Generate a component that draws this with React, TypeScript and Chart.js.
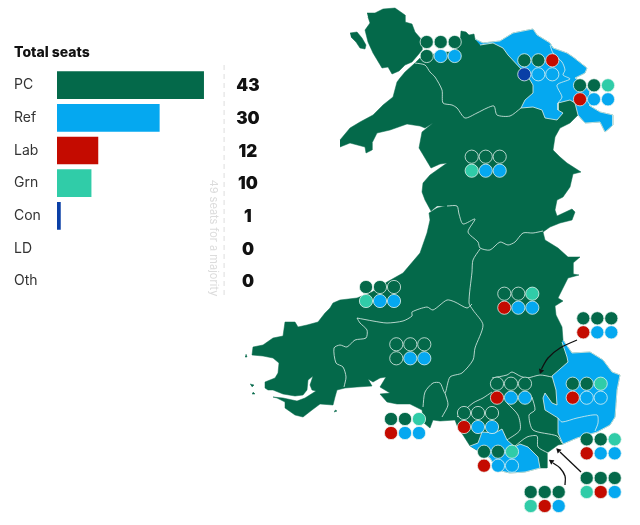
import { useEffect, useRef } from 'react'
import { Chart, registerables } from 'chart.js'

Chart.register(...registerables)

const PARTY_COLORS: Record<string, string> = {
  PC: '#04694A',
  Ref: '#05A8F0',
  Lab: '#C40B00',
  Grn: '#30CCA8',
  Con: '#0A3FA6',
}

// total seats
const parties = ['PC', 'Ref', 'Lab', 'Grn', 'Con', 'LD', 'Oth']
const seats = [43, 30, 12, 10, 1, 0, 0]
const barColors = ['#04694A', '#05A8F0', '#C40B00', '#30CCA8', '#0A3FA6', 'transparent', 'transparent']
const majority = 49

// map outlines, in map units
type Pt = [number, number]

const mainland: Pt[] = [
  [340, 140], [350, 128], [360, 122], [373, 115], [383, 105], [393, 97], [397, 82], [400, 78], [405, 72], [415, 63],
  [420, 58], [428, 56], [440, 52], [452, 52], [460, 43], [461, 31], [466, 32], [469, 35], [474, 34], [475, 39],
  [483, 43], [500, 41], [513, 33], [533, 29], [537, 35], [550, 43], [553, 48], [567, 53], [573, 57], [587, 68],
  [585, 73], [575, 78], [582, 82], [590, 92], [590, 106], [600, 112], [613, 115], [613, 125], [605, 132], [600, 122],
  [585, 123], [578, 115], [570, 123], [560, 128], [555, 137], [553, 150], [560, 157], [567, 163], [581, 172], [573, 174],
  [570, 187], [563, 197], [557, 200], [555, 210], [557, 216], [572, 209], [575, 212], [572, 220], [560, 223], [550, 227],
  [543, 232], [545, 240], [558, 248], [568, 257], [580, 257], [573, 263], [573, 274], [579, 275], [568, 278], [563, 288],
  [558, 298], [563, 301], [555, 306], [556, 315], [562, 327], [563, 340], [572, 353], [590, 352], [603, 360], [612, 372],
  [620, 375], [617, 390], [615, 417], [610, 425], [597, 432], [577, 438], [563, 444], [558, 445], [547, 453], [547, 468],
  [540, 468], [525, 472], [510, 473], [497, 470], [490, 458], [480, 452], [470, 446], [463, 435], [458, 428], [455, 420],
  [440, 421], [433, 420], [430, 428], [424, 423], [422, 410], [410, 404], [397, 404], [387, 402], [380, 394], [390, 393],
  [380, 387], [386, 377], [380, 378], [373, 382], [368, 379], [372, 386], [357, 387], [345, 388], [337, 390], [335, 397],
  [333, 405], [320, 404], [312, 410], [303, 417], [295, 415], [285, 408], [285, 402], [277, 398], [273, 397], [283, 398],
  [297, 401], [305, 398], [316, 391], [312, 390], [310, 385], [313, 376], [308, 380], [307, 390], [303, 395], [295, 396],
  [283, 394], [273, 390], [268, 390], [265, 388], [265, 382], [275, 378], [278, 373], [279, 363], [273, 358], [263, 356],
  [252, 355], [253, 347], [263, 345], [273, 338], [283, 336], [285, 322], [295, 322], [298, 327], [307, 325], [318, 322],
  [325, 313], [330, 308], [333, 303], [340, 300], [357, 298], [372, 292], [387, 282], [403, 273], [420, 253], [427, 233],
  [430, 220], [429, 213], [437, 208], [445, 206], [437, 206], [431, 211], [425, 200], [422, 192], [423, 183], [430, 175],
  [447, 163], [440, 164], [431, 168], [419, 148], [422, 132], [433, 123], [425, 128], [420, 126], [407, 124], [390, 130],
  [377, 133], [372, 143], [372, 150], [366, 153], [365, 147], [350, 143], [340, 147],
]
const anglesey: Pt[] = [
  [367, 13], [375, 13], [383, 9], [395, 8], [405, 15], [405, 22], [412, 24], [415, 32], [422, 40], [422, 50],
  [418, 55], [412, 62], [405, 65], [399, 71], [392, 74], [388, 67], [382, 68], [373, 53], [368, 42], [365, 30],
  [370, 23], [368, 17],
]
const holyIsland: Pt[] = [
  [350, 33], [357, 32], [362, 38], [366, 45], [365, 49], [360, 48], [356, 42], [351, 37],
]
const islets: Pt[][] = [
  [[246, 354], [247, 357], [245, 357]],
  [[250, 384], [254, 385], [252, 387]],
  [[253, 392], [255, 394], [252, 394]],
  [[335, 410], [337, 411], [334, 412]],
]
const blueNorth: Pt[] = [
  [475, 39], [483, 43], [500, 41], [513, 33], [533, 29], [537, 35], [550, 43], [553, 48], [567, 53], [573, 57],
  [587, 68], [585, 73], [575, 78], [582, 82], [590, 92], [590, 106], [600, 112], [613, 115], [613, 125], [605, 132],
  [600, 122], [585, 123], [578, 115], [575, 103], [570, 100], [558, 103], [558, 110], [563, 113], [557, 120], [545, 118],
  [542, 110], [533, 107], [521, 108], [525, 100], [533, 93], [533, 85], [530, 80], [522, 70], [508, 55], [503, 48],
  [493, 43], [480, 45],
]
const blueEast: Pt[] = [
  [563, 340], [572, 353], [590, 352], [603, 360], [612, 372], [620, 375], [617, 390], [615, 417], [610, 425], [597, 432],
  [577, 438], [563, 444], [558, 433], [558, 418], [545, 410], [543, 398], [545, 393], [552, 403], [557, 405], [556, 390],
  [552, 376], [568, 362], [567, 357], [562, 342],
]
const blueSouth: Pt[] = [
  [470, 446], [478, 443], [482, 432], [495, 433], [502, 429], [507, 440], [515, 447], [520, 444], [528, 447], [538, 457],
  [540, 468], [525, 472], [510, 473], [497, 470], [490, 458], [480, 452],
]
const borders: Pt[][] = [
  [[415, 63], [425, 65], [430, 72], [435, 77], [442, 90], [443, 103], [452, 105], [457, 108], [465, 118], [477, 113], [487, 108], [494, 106], [497, 115], [510, 116], [521, 108]],
  [[447, 206], [457, 206], [459, 214], [463, 224], [475, 219], [468, 232], [478, 242], [480, 248], [490, 250], [500, 242], [508, 245], [515, 242], [523, 233], [533, 233], [543, 231]],
  [[480, 249], [473, 260], [472, 272], [469, 303], [473, 310], [483, 325], [475, 348], [473, 360], [462, 373], [450, 377], [445, 393], [440, 383], [433, 383], [425, 392], [423, 407]],
  [[445, 393], [448, 405], [442, 417]],
  [[357, 318], [373, 321], [387, 323], [403, 321], [412, 316], [412, 312], [427, 307], [433, 310], [447, 300], [455, 302], [467, 308], [472, 304]],
  [[357, 318], [360, 323], [367, 330], [366, 338], [355, 340], [347, 347], [340, 345], [334, 348], [336, 363], [343, 367], [346, 377], [344, 387]],
  [[457, 417], [473, 403], [483, 398], [492, 392]],
  [[492, 378], [507, 375], [512, 372], [520, 376], [527, 378], [540, 375], [552, 377]],
  [[507, 403], [518, 415], [520, 430], [507, 440]],
  [[532, 397], [535, 410], [529, 415], [533, 430], [557, 436], [562, 443]],
  [[515, 446], [527, 437], [537, 436], [538, 447], [548, 453]],
  [[558, 418], [562, 422], [577, 418], [597, 415], [598, 423], [595, 431]],
  [[550, 45], [553, 53], [562, 62], [565, 70], [563, 75], [570, 79], [557, 85], [562, 97], [558, 103]],
]

// seats per region: top left dot, then the six parties row by row
const groupX = [426.7, 524.3, 580, 471.7, 366, 396.3, 391, 504.3, 583.3, 572.7, 497, 464, 484, 586.7, 586.7, 530.7]
const groupY = [42, 60.3, 85.3, 156.7, 287, 344.3, 419, 293.7, 318.3, 383.7, 383.7, 413, 451.7, 439.3, 478, 492]
const groupSeats = [
  ['PC', 'PC', 'PC', 'PC', 'Ref', 'Ref'],
  ['PC', 'PC', 'Lab', 'Con', 'Ref', 'Ref'],
  ['PC', 'PC', 'Grn', 'Lab', 'Ref', 'Ref'],
  ['PC', 'PC', 'PC', 'Grn', 'Ref', 'Ref'],
  ['PC', 'PC', 'PC', 'Grn', 'Ref', 'Ref'],
  ['PC', 'PC', 'PC', 'PC', 'Ref', 'Ref'],
  ['PC', 'PC', 'Grn', 'Lab', 'Ref', 'Ref'],
  ['PC', 'PC', 'Grn', 'Lab', 'Ref', 'Ref'],
  ['PC', 'PC', 'PC', 'Lab', 'Ref', 'Ref'],
  ['PC', 'PC', 'Grn', 'Lab', 'Ref', 'Ref'],
  ['PC', 'PC', 'PC', 'Lab', 'Ref', 'Ref'],
  ['PC', 'PC', 'PC', 'Lab', 'Ref', 'Ref'],
  ['PC', 'PC', 'Grn', 'Lab', 'Ref', 'Ref'],
  ['PC', 'PC', 'Grn', 'Lab', 'Ref', 'Ref'],
  ['PC', 'PC', 'PC', 'Grn', 'Lab', 'Ref'],
  ['PC', 'PC', 'PC', 'Grn', 'Lab', 'Ref'],
]

// leader lines from the dots outside the map
const leaders: Pt[][] = [
  [[577, 340], [560, 348], [548, 358], [541.5, 369]],
  [[581, 472], [560, 452]],
  [[565, 485], [565, 476], [560, 468], [553, 463]],
]
const leaderTips: Pt[] = [[541, 371], [558.5, 450.5], [551.5, 461.5]]
const leaderAngles = [200, 315, 305]

const toPoints = (pts: Pt[]) => pts.map(([x, y]) => ({ x, y }))

const shape = (pts: Pt[], color: string, order: number, edge = false) => ({
  type: 'scatter' as const,
  data: toPoints(pts),
  showLine: true,
  fill: 'shape',
  backgroundColor: color,
  borderColor: edge ? 'rgba(225,240,235,0.8)' : color,
  borderWidth: edge ? 1 : 0.5,
  pointRadius: 0,
  order,
})

const line = (pts: Pt[], color: string, width: number, order: number, tension = 0) => ({
  type: 'scatter' as const,
  data: toPoints(pts),
  showLine: true,
  borderColor: color,
  borderWidth: width,
  tension,
  pointRadius: 0,
  order,
})

const seatDots = (party: string) => {
  const pts: { x: number; y: number }[] = []
  groupSeats.forEach((group, g) => {
    group.forEach((p, i) => {
      if (p === party) pts.push({ x: groupX[g] + (i % 3) * 14, y: groupY[g] + Math.floor(i / 3) * 14 })
    })
  })
  return {
    type: 'scatter' as const,
    data: pts,
    pointRadius: 6.6,
    pointBackgroundColor: PARTY_COLORS[party],
    pointBorderColor: 'rgba(235,245,242,0.75)',
    pointBorderWidth: 1,
    order: 2,
  }
}

const barLabels = {
  id: 'barLabels',
  afterDatasetsDraw(chart: Chart) {
    const { ctx, scales } = chart
    const lineX = scales.x.getPixelForValue(majority)
    ctx.save()
    ctx.strokeStyle = '#dddddd'
    ctx.setLineDash([5, 4])
    ctx.lineWidth = 1
    ctx.beginPath()
    ctx.moveTo(lineX, 65)
    ctx.lineTo(lineX, 298)
    ctx.stroke()
    ctx.setLineDash([])

    ctx.fillStyle = '#dcdcdc'
    ctx.font = '11px Inter'
    ctx.textAlign = 'center'
    ctx.textBaseline = 'middle'
    ctx.translate(lineX - 11, 238)
    ctx.rotate(Math.PI / 2)
    ctx.fillText(`${majority} seats for a majority`, 0, 0)
    ctx.restore()

    ctx.save()
    ctx.fillStyle = '#111111'
    ctx.font = '900 17px Inter'
    ctx.textAlign = 'center'
    ctx.textBaseline = 'middle'
    seats.forEach((v, i) => {
      ctx.fillText(String(v), scales.x.getPixelForValue(56), scales.y.getPixelForValue(i) + 1)
    })
    ctx.restore()
  },
}

const App = () => {
  const mapRef = useRef<HTMLCanvasElement>(null)
  const barRef = useRef<HTMLCanvasElement>(null)

  useEffect(() => {
    if (!mapRef.current || !barRef.current) return

    const mapChart = new Chart(mapRef.current, {
      type: 'scatter',
      data: {
        datasets: [
          ...leaders.map(l => line(l, '#111111', 1.3, 0, 0.4)),
          {
            type: 'scatter' as const,
            data: toPoints(leaderTips),
            pointStyle: 'triangle',
            pointRadius: 3.2,
            pointRotation: leaderAngles,
            pointBackgroundColor: '#111111',
            pointBorderWidth: 0,
            order: 0,
          },
          ...['PC', 'Ref', 'Lab', 'Grn', 'Con'].map(seatDots),
          ...borders.map(b => line(b, 'rgba(225,240,235,0.8)', 1, 3, 0.25)),
          shape(blueNorth, PARTY_COLORS.Ref, 4, true),
          shape(blueEast, PARTY_COLORS.Ref, 4, true),
          shape(blueSouth, PARTY_COLORS.Ref, 4, true),
          shape(mainland, PARTY_COLORS.PC, 5),
          shape(anglesey, PARTY_COLORS.PC, 5),
          shape(holyIsland, PARTY_COLORS.PC, 5),
          ...islets.map(i => shape(i, PARTY_COLORS.PC, 5)),
        ] as any,
      },
      options: {
        animation: false,
        responsive: false,
        events: [],
        layout: { autoPadding: false },
        scales: {
          x: { type: 'linear', min: 0, max: 640, display: false },
          y: { type: 'linear', min: 0, max: 525, reverse: true, display: false },
        },
        plugins: {
          legend: { display: false },
          tooltip: { enabled: false },
        },
      },
    })

    const barChart = new Chart(barRef.current, {
      type: 'bar',
      data: {
        labels: parties,
        datasets: [{
          data: seats,
          backgroundColor: barColors,
          barThickness: 27,
          borderWidth: 0,
        }],
      },
      options: {
        indexAxis: 'y',
        animation: false,
        responsive: false,
        events: [],
        layout: {
          padding: { left: 14, right: 4.3, top: 44, bottom: 227.5 },
        },
        scales: {
          x: { min: 0, max: 70, display: false },
          y: {
            grid: { display: false, drawTicks: false },
            border: { display: false },
            afterFit: (scale: any) => { scale.width = 43 },
            ticks: {
              crossAlign: 'far',
              padding: 0,
              color: '#333333',
              font: { family: 'Inter', size: 14 },
            },
          },
        },
        plugins: {
          legend: { display: false },
          tooltip: { enabled: false },
          title: {
            display: true,
            text: 'Total seats',
            align: 'start',
            color: '#111111',
            font: { family: 'Inter', size: 14, weight: 800 },
            padding: { top: 0, bottom: 8 },
          },
        },
      },
      plugins: [barLabels],
    })

    return () => {
      mapChart.destroy()
      barChart.destroy()
    }
  }, [])

  return (
    <div style={{ position: 'fixed', top: 0, left: 0, width: 640, height: 525, background: '#fff' }}>
      <canvas ref={mapRef} width={640} height={525} style={{ position: 'absolute', top: 0, left: 0 }} />
      <canvas ref={barRef} width={300} height={525} style={{ position: 'absolute', top: 0, left: 0 }} />
    </div>
  )
}

export default App
